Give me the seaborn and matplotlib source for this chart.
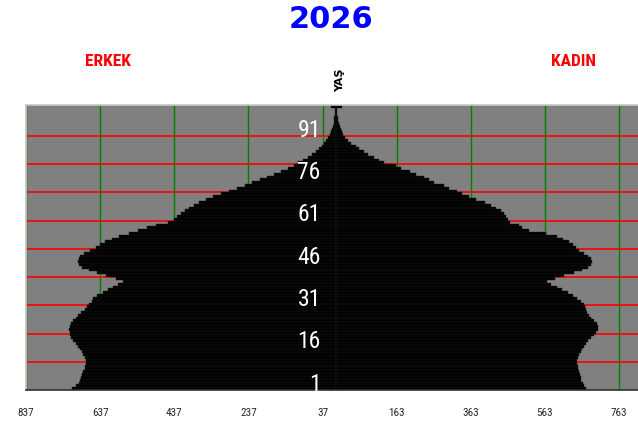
import pandas as pd
import seaborn as sns
import matplotlib.pyplot as plt
from matplotlib import font_manager as fm

# ages 0..100, values
ages = list(range(0, 101))

erkek = [712, 702, 695, 692, 688, 685, 682, 679, 677, 675,
         674, 677, 682, 687, 692, 697, 703, 710, 715, 718,
         719, 720, 719, 716, 710, 703, 697, 688, 678, 672,
         666, 660, 655, 645, 630, 615, 602, 590, 576, 595,
         620, 645, 668, 685, 695, 697, 695, 690, 680, 664,
         647, 637, 625, 605, 585, 560, 535, 510, 487, 455,
         438, 430, 420, 408, 398, 385, 370, 352, 333, 312,
         290, 268, 246, 226, 207, 187, 168, 148, 130, 115,
         102, 90, 77, 66, 56, 47, 39, 33, 27, 22,
         18, 14, 11, 9, 7, 6, 5, 4, 3, 3,
         15]

kadin = [675, 668, 665, 661, 659, 657, 655, 653, 651, 649,
         650, 652, 655, 659, 663, 667, 673, 679, 688, 695,
         702, 706, 706, 703, 695, 688, 682, 676, 673, 671,
         668, 660, 650, 638, 624, 610, 595, 578, 569, 590,
         615, 642, 662, 678, 688, 691, 686, 678, 668, 655,
         646, 638, 628, 612, 595, 565, 520, 500, 493, 470,
         462, 457, 452, 445, 432, 418, 400, 378, 358, 340,
         326, 305, 290, 263, 250, 236, 215, 200, 175, 160,
         130, 115, 101, 85, 74, 62, 54, 40, 32, 24,
         18, 15, 12, 10, 7, 6, 4, 3, 3, 2,
         15]

tick_pos = [-837, -637, -437, -237, -37, 163, 363, 563, 763]
tick_labels = ['837', '637', '437', '237', '37', '163', '363', '563', '763']
age_labels = [1, 16, 31, 46, 61, 76, 91]
red_lines = [9.5, 19.5, 29.5, 39.5, 49.5, 59.5, 69.5, 79.5, 89.5]


def pick_narrow():
    # the reference uses a narrow face; take whatever condensed font exists
    names = {f.name for f in fm.fontManager.ttflist}
    for n in ['Liberation Sans Narrow', 'Arial Narrow', 'DejaVu Sans Condensed',
              'Roboto Condensed', 'Open Sans Condensed', 'Noto Sans Condensed']:
        if n in names:
            return n, 'normal'
    for f in fm.fontManager.ttflist:
        if str(f.stretch) in ('condensed', 'semi-condensed', 'extra-condensed'):
            return f.name, f.stretch
    return 'DejaVu Sans', 'normal'


def main():
    sns.set_style('white')
    plt.rcParams['font.family'] = ['DejaVu Sans']
    narrow, stretch = pick_narrow()
    nf = dict(family=[narrow, 'DejaVu Sans'], fontstretch=stretch)

    df = pd.DataFrame({
        'age': ages + ages,
        'value': [-v for v in erkek] + kadin,
        'sex': ['ERKEK'] * len(ages) + ['KADIN'] * len(ages),
    })

    fig = plt.figure(figsize=(6.38, 4.26), dpi=100)
    ax = fig.add_axes([26 / 638, 1 - 390 / 426, 1 - 26 / 638, (390 - 105) / 426])
    ax.set_facecolor('#808080')

    # grid lines behind the bars
    for x in tick_pos:
        ax.axvline(x, color='#008000', lw=1.0, zorder=0)
    for y in red_lines:
        ax.axhline(y, color='#ff0000', lw=1.2, zorder=0)

    sns.barplot(data=df, x='value', y='age', hue='sex',
                palette=['black', 'black'], orient='y', native_scale=True,
                dodge=False, width=1.0, legend=False, errorbar=None,
                linewidth=0.3, edgecolor='#1c1c1c', ax=ax, zorder=2)

    ax.set_xlim(-837, 814)
    ax.set_ylim(-0.5, 100.5)
    ax.set_xticks(tick_pos)
    ax.set_xticklabels(tick_labels, fontsize=8, **nf)
    ax.tick_params(axis='x', direction='out', length=4, width=1,
                   color='#303030', pad=9)
    ax.set_yticks([])
    ax.set_xlabel('')
    ax.set_ylabel('')

    for a in age_labels:
        ax.text(-42, a + 0.6, str(a), color='white', ha='right', va='center',
                fontsize=17, zorder=5, **nf)

    ax.spines['top'].set_color('#c8c8c8')
    ax.spines['left'].set_color('#c8c8c8')
    ax.spines['right'].set_visible(False)
    ax.spines['bottom'].set_color('#303030')
    for s in ['top', 'left', 'bottom']:
        ax.spines[s].set_linewidth(1.2)

    fig.text(331 / 638, 1 - 19 / 426, '2026', color='#0000ff', fontsize=22,
             fontweight='bold', ha='center', va='center')
    fig.text(108 / 638, 1 - 61 / 426, 'ERKEK', color='#ff0000', fontsize=12.5,
             fontweight='bold', ha='center', va='center', **nf)
    fig.text(573 / 638, 1 - 61 / 426, 'KADIN', color='#ff0000', fontsize=12.5,
             fontweight='bold', ha='center', va='center', **nf)
    fig.text(340 / 638, 1 - 80 / 426, 'YAŞ', color='black', fontsize=8,
             fontweight='bold', rotation=90, ha='center', va='center')

    fig.savefig('out.png', dpi=100)


if __name__ == '__main__':
    main()
